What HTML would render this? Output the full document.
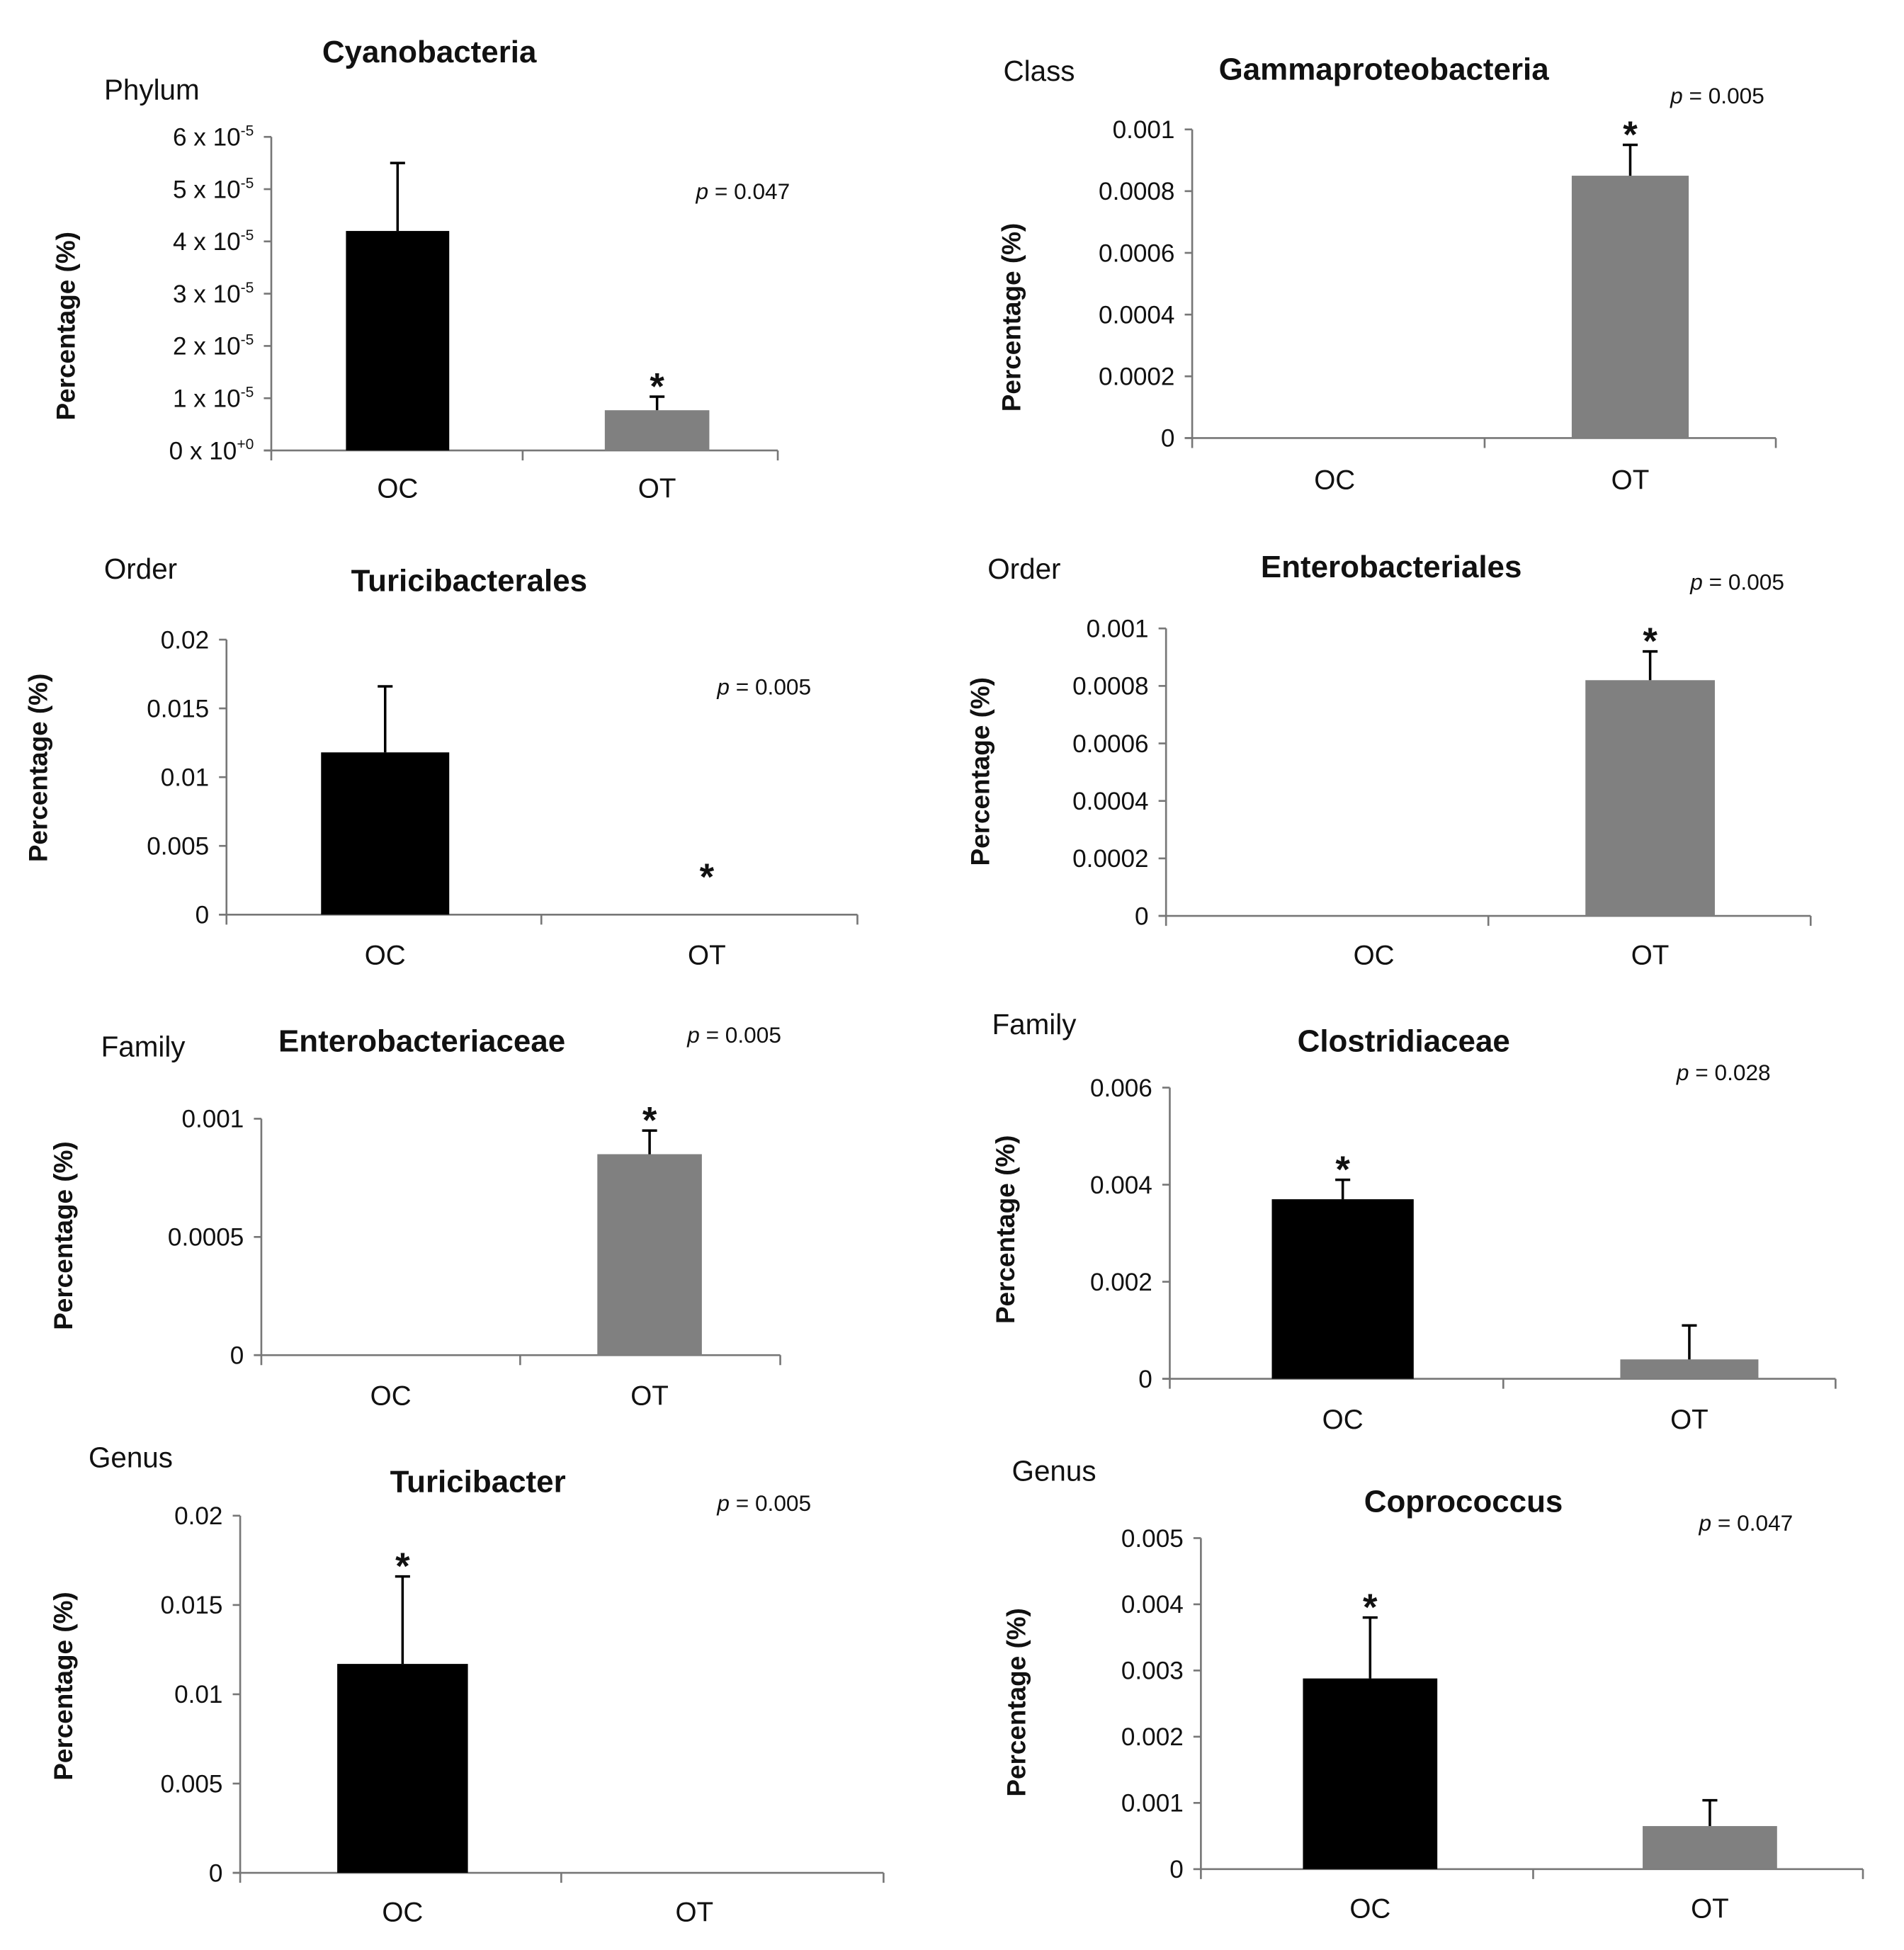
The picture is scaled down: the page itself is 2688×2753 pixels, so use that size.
<!DOCTYPE html>
<html><head><meta charset="utf-8"><style>
html,body{margin:0;padding:0;background:#fff;}
svg{display:block;}
text{font-family:"Liberation Sans",sans-serif;fill:#111;}
</style></head><body>
<svg id="fig" width="2688" height="2753" viewBox="0 0 1530 1567" preserveAspectRatio="none" xmlns="http://www.w3.org/2000/svg"></svg>
<script>
// Data per panel (values in %, order: OC, OT)
const categories = ["OC", "OT"];
const cyanoValues = [4.2e-5, 0.77e-5];
const cyanoErrors = [1.3e-5, 0.26e-5];
const gammaValues = [0, 0.00085];
const gammaErrors = [0, 0.0001];
const turicalesValues = [0.0118, 0];
const turicalesErrors = [0.0048, 0];
const enteralesValues = [0, 0.00082];
const enteralesErrors = [0, 0.0001];
const enteraceaeValues = [0, 0.00085];
const enteraceaeErrors = [0, 0.0001];
const clostValues = [0.0037, 0.0004];
const clostErrors = [0.0004, 0.0007];
const turicValues = [0.0117, 0];
const turicErrors = [0.0049, 0];
const coproValues = [0.00288, 0.00065];
const coproErrors = [0.00092, 0.00039];
const cyanoTicks = [0, 1e-5, 2e-5, 3e-5, 4e-5, 5e-5, 6e-5];
const cyanoTickLabels = ["0 x 10|+0","1 x 10|-5","2 x 10|-5","3 x 10|-5","4 x 10|-5","5 x 10|-5","6 x 10|-5"];
const gammaTicks = [0, 0.0002, 0.0004, 0.0006, 0.0008, 0.001];
const gammaTickLabels = ["0","0.0002","0.0004","0.0006","0.0008","0.001"];
const turicTicks = [0, 0.005, 0.01, 0.015, 0.02];
const turicTickLabels = ["0","0.005","0.01","0.015","0.02"];
const enteraceaeTicks = [0, 0.0005, 0.001];
const enteraceaeTickLabels = ["0","0.0005","0.001"];
const clostTicks = [0, 0.002, 0.004, 0.006];
const clostTickLabels = ["0","0.002","0.004","0.006"];
const coproTicks = [0, 0.001, 0.002, 0.003, 0.004, 0.005];
const coproTickLabels = ["0","0.001","0.002","0.003","0.004","0.005"];

const panels = [
 {id:"cyanobacteria",title:"Cyanobacteria",tx:345,ty:50,rank:"Phylum",rx:122,ry:80,p:"0.047",px:597,py:160,
  ax:218,x1:625,y0:362,yTop:110,max:6e-5,ticks:cyanoTicks,labels:cyanoTickLabels,vals:cyanoValues,errs:cyanoErrors,
  bars:[[278,361],[486,570]],mid:420,cy:400,ytx:60,yty:262,star:[false,true]},
 {id:"gammaproteobacteria",title:"Gammaproteobacteria",tx:1112,ty:64,rank:"Class",rx:835,ry:65,p:"0.005",px:1380,py:83,
  ax:958,x1:1427,y0:352,yTop:104,max:0.001,ticks:gammaTicks,labels:gammaTickLabels,vals:gammaValues,errs:gammaErrors,
  bars:[[1030,1115],[1263,1357]],mid:1193,cy:393,ytx:820,yty:255,star:[false,true]},
 {id:"turicibacterales",title:"Turicibacterales",tx:377,ty:475,rank:"Order",rx:113,ry:465,p:"0.005",px:614,py:558,
  ax:182,x1:689,y0:735,yTop:514,max:0.02,ticks:turicTicks,labels:turicTickLabels,vals:turicalesValues,errs:turicalesErrors,
  bars:[[258,361],[516,620]],mid:435,cy:775,ytx:38,yty:617,star:[false,true]},
 {id:"enterobacteriales",title:"Enterobacteriales",tx:1118,ty:464,rank:"Order",rx:823,ry:465,p:"0.005",px:1396,py:474,
  ax:937,x1:1455,y0:736,yTop:505,max:0.001,ticks:gammaTicks,labels:gammaTickLabels,vals:enteralesValues,errs:enteralesErrors,
  bars:[[1052,1156],[1274,1378]],mid:1196,cy:775,ytx:795,yty:620,star:[false,true]},
 {id:"enterobacteriaceae",title:"Enterobacteriaceae",tx:339,ty:845,rank:"Family",rx:115,ry:849,p:"0.005",px:590,py:838,
  ax:210,x1:627,y0:1089,yTop:899,max:0.001,ticks:enteraceaeTicks,labels:enteraceaeTickLabels,vals:enteraceaeValues,errs:enteraceaeErrors,
  bars:[[272,356],[480,564]],mid:418,cy:1129,ytx:58,yty:993,star:[false,true]},
 {id:"clostridiaceae",title:"Clostridiaceae",tx:1128,ty:845,rank:"Family",rx:831,ry:831,p:"0.028",px:1385,py:868,
  ax:940,x1:1475,y0:1108,yTop:874,max:0.006,ticks:clostTicks,labels:clostTickLabels,vals:clostValues,errs:clostErrors,
  bars:[[1022,1136],[1302,1413]],mid:1208,cy:1148,ytx:815,yty:988,star:[true,false]},
 {id:"turicibacter",title:"Turicibacter",tx:384,ty:1199,rank:"Genus",rx:105,ry:1179,p:"0.005",px:614,py:1214,
  ax:193,x1:710,y0:1505,yTop:1218,max:0.02,ticks:turicTicks,labels:turicTickLabels,vals:turicValues,errs:turicErrors,
  bars:[[271,376],[506,610]],mid:451,cy:1544,ytx:58,yty:1355,star:[true,false]},
 {id:"coprococcus",title:"Coprococcus",tx:1176,ty:1215,rank:"Genus",rx:847,ry:1190,p:"0.047",px:1403,py:1230,
  ax:965,x1:1497,y0:1502,yTop:1236,max:0.005,ticks:coproTicks,labels:coproTickLabels,vals:coproValues,errs:coproErrors,
  bars:[[1047,1155],[1320,1428]],mid:1232,cy:1541,ytx:824,yty:1368,star:[true,false]}
];
const NS="http://www.w3.org/2000/svg";
const svg=document.getElementById('fig');
function mk(tag,attrs,parent,txt){const e=document.createElementNS(NS,tag);for(const k in attrs)e.setAttribute(k,attrs[k]);if(txt!==undefined)e.textContent=txt;parent.appendChild(e);return e;}
panels.forEach(P=>{
  const g=mk('g',{},svg);
  
  
  const y=v=>P.y0-(v/P.max)*(P.y0-P.yTop);
  const t=mk('text',{x:P.tx,y:P.ty,'text-anchor':'middle','font-size':25,'font-weight':'bold'},g,P.title);
  
  
  const r=mk('text',{x:P.rx,y:P.ry,'text-anchor':'middle','font-size':23},g,P.rank);
  
  
  const pt=mk('text',{x:P.px,y:P.py,'text-anchor':'middle','font-size':18},g);
  
  
  mk('tspan',{'font-style':'italic'},pt,'p');mk('tspan',{},pt,' = '+P.p);
  const yt=mk('text',{x:P.ytx,y:P.yty,'text-anchor':'middle','font-size':21,'font-weight':'bold',transform:`rotate(-90 ${P.ytx} ${P.yty})`},g,'Percentage (%)');
  
  
  const ya=mk('line',{x1:P.ax,y1:P.yTop,x2:P.ax,y2:P.y0+8,stroke:'#777','stroke-width':1.5},g);
  
  
  const xa=mk('line',{x1:P.ax-6,y1:P.y0,x2:P.x1,y2:P.y0,stroke:'#777','stroke-width':1.5},g);
  
  
  [P.mid,P.x1].forEach(xx=>mk('line',{x1:xx,y1:P.y0,x2:xx,y2:P.y0+8,stroke:'#777','stroke-width':1.5},g));
  P.ticks.forEach((v,i)=>{
    mk('line',{x1:P.ax-6,y1:y(v),x2:P.ax,y2:y(v),stroke:'#777','stroke-width':1.5},g);
    const parts=P.labels[i].split('|');
    const tl=mk('text',{x:P.ax-14,y:y(v)+7,'text-anchor':'end','font-size':20,fill:'#222'},g);
    
    
    if(parts.length>1){mk('tspan',{},tl,parts[0]);mk('tspan',{dy:-8,'font-size':12},tl,parts[1]);}
    else tl.textContent=parts[0];
  });
  categories.forEach((c,i)=>{
    const [bx0,bx1]=P.bars[i];const cx=(bx0+bx1)/2;const v=P.vals[i];
    if(v>0){
      const b=mk('rect',{x:bx0,y:y(v),width:bx1-bx0,height:P.y0-y(v),fill:i===0?'#000':'#808080'},g);
      
      
    }
    const e=P.errs[i];
    if(e>0){
      const el=mk('path',{d:`M${cx},${y(v)} V${y(v+e)} M${cx-6},${y(v+e)} H${cx+6}`,stroke:'#000','stroke-width':2,fill:'none'},g);
      
      
    }
    if(P.star[i]){
      const sy=(e>0?y(v+e):y(v));
      const s=mk('text',{x:cx,y:sy+(v===0?-22:0)+2,'text-anchor':'middle','font-size':30,'font-weight':'bold'},g,'*');
      
      
    }
    const cl=mk('text',{x:cx,y:P.cy,'text-anchor':'middle','font-size':22},g,c);
    
    
  });
});
</script>
</body></html>
